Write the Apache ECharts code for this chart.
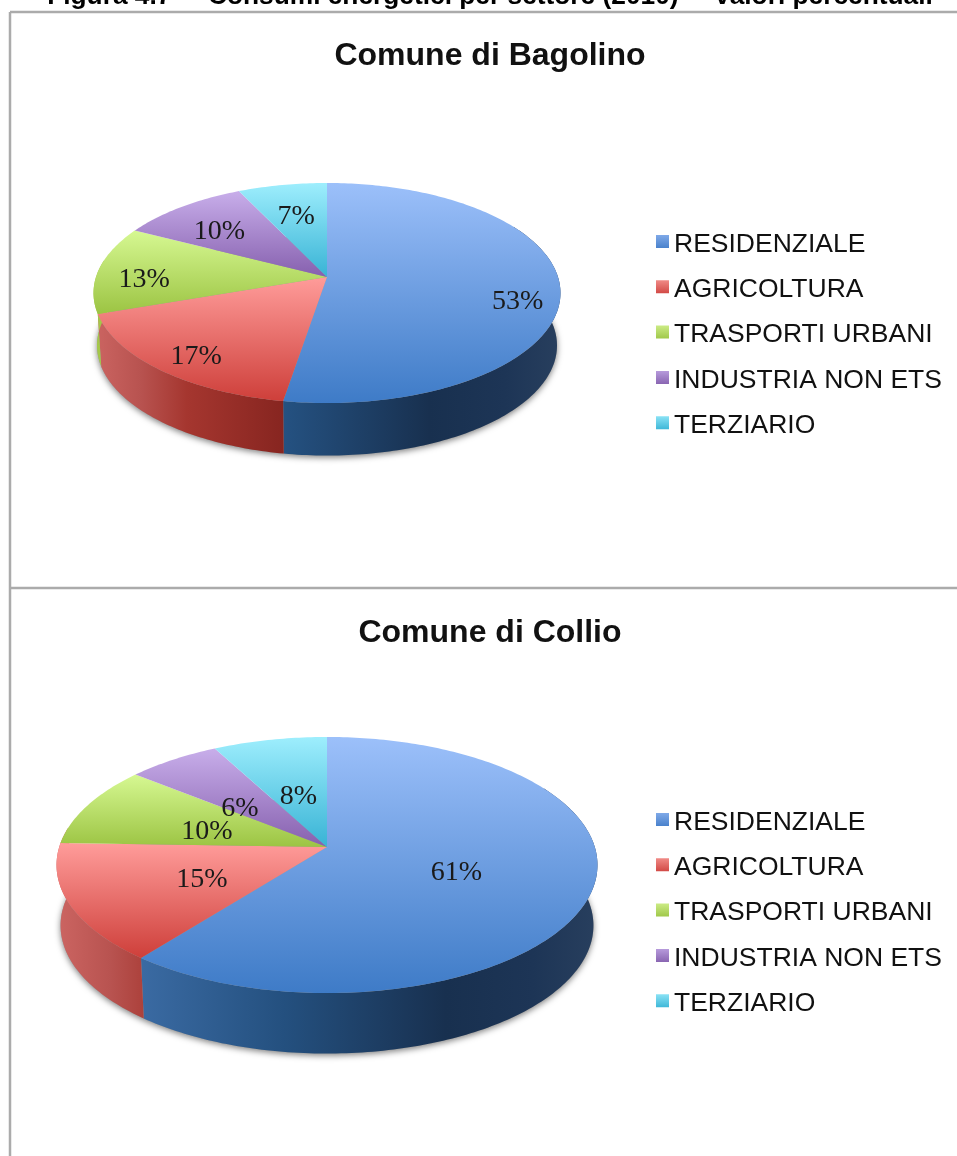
<!DOCTYPE html>
<html><head><meta charset="utf-8">
<style>html,body{margin:0;padding:0;background:#fff}#c{width:957px;height:1156px}</style>
<script src="https://cdn.jsdelivr.net/npm/echarts@6/dist/echarts.min.js"></script>
</head><body><div id="c"></div>
<script>
const categories = ['RESIDENZIALE','AGRICOLTURA','TRASPORTI URBANI','INDUSTRIA NON ETS','TERZIARIO'];
const bagolinoValues = [52.6,17.1,12.9,10.3,7.1];
const collioValues = [60.6,14.9,10.3,6.4,7.8];
const figureTitle = 'Figura 4.7  – Consumi energetici per settore (2010)  – valori percentuali';
const bagolinoTitle = 'Comune di Bagolino';
const collioTitle = 'Comune di Collio';

const topStops = [['#9CC0FA','#3E7BC7'],['#FF9C9A','#CE3F3A'],['#D6F892','#9CC443'],['#C8AEEA','#8660AE'],['#9EEEFD','#38B3D5']];
const legendStops = [['#7FA9E8','#4A82CC'],['#F08A86','#D24A46'],['#CBEB85','#A0C84A'],['#B79BDC','#8A66B2'],['#8AE2F5','#40B8D8']];
const sideStops = [
 [[0,'#4274AE'],[0.16,'#3A6AA2'],[0.42,'#24507F'],[0.72,'#18304F'],[0.88,'#1D3556'],[1,'#283F5E']],
 [[0,'#CC6562'],[0.1,'#B85350'],[0.2,'#A5362F'],[0.42,'#85241F'],[1,'#6A1A16']],
 [[0,'#A5C84A'],[1,'#6F8A2C']],
 [[0,'#7A5A9C'],[1,'#4E3570']],
 [[0,'#3AA6C4'],[1,'#206F88']]
];
const mk = (a,b,end=1)=>new echarts.graphic.LinearGradient(0,0,0,1,[{offset:0,color:a},{offset:end,color:b}]);

const pies = [
 {values:bagolinoValues,cx:327,cy:277,a:231,b:107.7,k:0.1455,h:52.5,rho:[0.82,0.8,0.8,0.72,0.66],dy:[17,7,9,6,3]},
 {values:collioValues,cx:327,cy:847,a:267.8,b:125.5,k:0.1406,h:60.5,rho:[0.5,0.5,0.49,0.54,0.47],dy:[5,5,6,11,3]}
];
const serifFont = '28px "Liberation Serif"';

function project(p,rho,deg){
  const t=deg*Math.PI/180, u=rho*Math.sin(t), v=-rho*Math.cos(t), w=1-p.k*v;
  return [p.cx+p.a*u/w, p.cy+p.b*v/w];
}
function halfWidth(p){return p.a/Math.sqrt(1-p.k*p.k);}
function arc(p,d0,d1){
  const n=Math.max(2,Math.ceil(Math.abs(d1-d0))),o=[];
  for(let i=0;i<=n;i++)o.push(project(p,1,d0+(d1-d0)*i/n));
  return o;
}
function lower(p,pt){return [p.cx+(pt[0]-p.cx)*0.985, pt[1]+p.h];}

function shadowSeries(p){
  return {type:'custom',coordinateSystem:'none',silent:true,data:[[100]],z:1,
    renderItem(){
      return {type:'polygon',shape:{points:arc(p,0,360).map(q=>lower(p,q))},
        style:{fill:'#999',shadowBlur:6,shadowColor:'rgba(0,0,0,0.5)',shadowOffsetY:2}};
    }};
}
function sliceSeries(p,i){
  const before=p.values.slice(0,i).reduce((s,x)=>s+x,0);
  const total=p.values.reduce((s,x)=>s+x,0);
  return {type:'custom',name:categories[i],coordinateSystem:'none',silent:true,data:[[p.values[i]]],z:2,
    renderItem(params,api){
      const val=api.value(0);
      const d0=before/total*360,d1=(before+val)/total*360,mid=(d0+d1)/2;
      const rim=arc(p,d0,d1);
      const hw=halfWidth(p);
      const sideFill=new echarts.graphic.LinearGradient(p.cx-hw,0,p.cx+hw,0,
        sideStops[i].map(s=>({offset:s[0],color:s[1]})),true);
      const lp=project(p,p.rho[i],mid);
      const children=[
        {type:'polygon',z2:2,shape:{points:[[p.cx,p.cy]].concat(rim)},style:{fill:mk(topStops[i][0],topStops[i][1])}},
        {type:'text',z2:3,style:{text:Math.round(val)+'%',x:lp[0],y:lp[1]+p.dy[i],align:'center',verticalAlign:'middle',font:serifFont,fill:'#1a1a1a'}}
      ];
      // only the part of the rim facing the viewer has a visible wall
      if(d0<270){
        const s0=Math.max(d0,60),s1=d1>=270?279:d1;
        const front=arc(p,s0,s1);
        children.unshift({type:'polygon',z2:1,shape:{points:front.concat(front.map(q=>lower(p,q)).reverse())},style:{fill:sideFill}});
      }
      return {type:'group',children};
    }};
}
// the square sits in the upper part of a taller icon box, so it rides a little above the text's middle
const legendIcon='path://M0,0H13V13H0Z M0,19L0,19Z';
const legendData=categories.map((c,i)=>({name:c,icon:legendIcon,itemStyle:{color:mk(legendStops[i][0],legendStops[i][1],0.68)}}));
const legendBase={orient:'vertical',left:651,selectedMode:false,itemWidth:13,itemHeight:19,itemGap:18.3,
  data:legendData,textStyle:{fontFamily:'"Liberation Sans"',fontSize:26.5,color:'#111'}};
const chartTitle=(text,top)=>({text,left:485,textAlign:'center',top,textStyle:{fontFamily:'"Liberation Sans"',fontWeight:'bold',fontSize:32,color:'#111'}});

const chart=echarts.init(document.getElementById('c'),null,{renderer:'canvas'});
chart.setOption({
  animation:false,backgroundColor:'#fff',
  title:[
    {text:figureTitle,left:485,textAlign:'center',top:-21,textStyle:{fontFamily:'"Liberation Sans"',fontWeight:'bold',fontSize:26.3,color:'#000'}},
    chartTitle(bagolinoTitle,35),chartTitle(collioTitle,612)
  ],
  legend:[Object.assign({},legendBase,{top:226}),Object.assign({},legendBase,{top:804})],
  graphic:[
    {type:'line',shape:{x1:10,y1:12,x2:957,y2:12},style:{stroke:'#ABABAB',lineWidth:2.5}},
    {type:'line',shape:{x1:10,y1:588,x2:957,y2:588},style:{stroke:'#ABABAB',lineWidth:2.5}},
    {type:'line',shape:{x1:10,y1:12,x2:10,y2:1156},style:{stroke:'#ABABAB',lineWidth:2.5}}
  ],
  series:[shadowSeries(pies[0]),shadowSeries(pies[1])]
    .concat(categories.map((c,i)=>sliceSeries(pies[0],i)))
    .concat(categories.map((c,i)=>sliceSeries(pies[1],i)))
});
</script></body></html>
